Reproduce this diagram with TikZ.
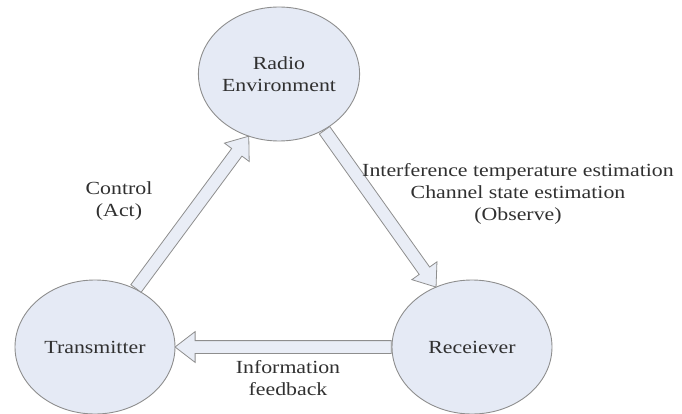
\documentclass[tikz,border=0pt]{standalone}
\usepackage{fontspec}
\setmainfont{Liberation Serif}[FakeStretch=1.18]
\usepackage{tikz}
\usetikzlibrary{shapes.geometric,shapes.arrows,calc}
\definecolor{bubble}{HTML}{E5EAF5}
\definecolor{rim}{HTML}{8E8E8E}
\definecolor{ink}{HTML}{303030}
\newcommand{\flow}[3]{%
	\path let \p1=(#2), \p2=(#3), \n1={atan2(\y2-\y1,\x2-\x1)}, \n2={veclen(\x2-\x1,\y2-\y1)} in
		node[flowarrow, minimum height=\n2, rotate=\n1, anchor=tail] (#1) at (\p1) {};}

\begin{document}
\begin{tikzpicture}[x=1pt,y=-1pt,
		every node/.style={font=\fontsize{18.5}{22}\selectfont, text=ink},
		agent/.style={ellipse, draw=rim, fill=bubble, line width=0.9pt, minimum width=160pt, minimum height=134pt, inner sep=0pt, align=center},
		flowarrow/.style={single arrow, draw=rim, fill=bubble!85!white, line width=0.8pt, inner sep=6pt, single arrow head extend=9pt, single arrow tip angle=75},
		lbl/.style={align=center}]
	\useasboundingbox (0,0) rectangle (682,414);
	\node[agent] (radio) at (279,74) {Radio\\Environment};
	\node[agent] (tx) at (95,347) {Transmitter};
	\node[agent] (rx) at (472,347) {Receiever};
	\flow{act}{tx.55}{radio.244}
	\flow{obs}{radio.309}{rx.121}
	\flow{fb}{rx.west}{tx.east}
	\node[lbl] (ctrl) at (119,201) {Control\\(Act)};
	\node[lbl] (est) at (518,194) {Interference temperature estimation\\Channel state estimation\\(Observe)};
	\node[lbl] (info) at (288,378) {Information\\feedback};
\end{tikzpicture}
\end{document}
